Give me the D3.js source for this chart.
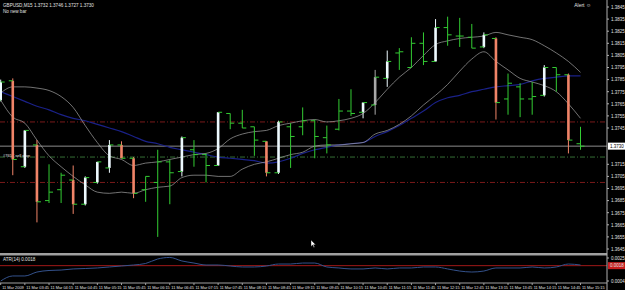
<!DOCTYPE html>
<html>
<head>
    <meta charset="UTF-8">
    <title>GBPUSD,M15</title>
    <script src="https://d3js.org/d3.v7.min.js"></script>
    <style>
        body {
            background-color: #000;
            margin: 0;
            padding: 0;
        }
        svg text {
            font-family: 'Liberation Sans', Arial, sans-serif;
            font-size: 5px;
            fill: #e0e0e0;
        }
    </style>
</head>
<body>
    <svg width="625" height="290"></svg>

    <script>
        // OHLC of the 49 M15 bars, left to right
        const opens  = [1.3768,1.3784,1.3713,1.3731,1.3685,1.3694,1.3702,1.3682,1.3700,1.3712,1.3731,1.3720,1.3694,1.3700,1.3717,1.3709,1.3727,1.3723,1.3714,1.3757,1.3749,1.3746,1.3734,1.3708,1.3746,1.3746,1.3751,1.3737,1.3744,1.3759,1.3758,1.3764,1.3786,1.3807,1.3795,1.3815,1.3800,1.3828,1.3821,1.3820,1.3812,1.3819,1.3769,1.3779,1.3769,1.3772,1.3795,1.3789,1.3732];
        const highs  = [1.3785,1.3786,1.3743,1.3735,1.3715,1.3708,1.3714,1.3705,1.3717,1.3735,1.3734,1.3721,1.3705,1.3727,1.3719,1.3738,1.3735,1.3724,1.3758,1.3757,1.3760,1.3746,1.3734,1.3751,1.3749,1.3762,1.3752,1.3747,1.3769,1.3777,1.3766,1.3793,1.3809,1.3811,1.3820,1.3824,1.3835,1.3837,1.3836,1.3831,1.3824,1.3820,1.3790,1.3782,1.3783,1.3797,1.3795,1.3790,1.3746];
        const lows   = [1.3767,1.3706,1.3712,1.3667,1.3683,1.3683,1.3674,1.3681,1.3699,1.3708,1.3720,1.3687,1.3684,1.3655,1.3682,1.3705,1.3713,1.3700,1.3714,1.3744,1.3745,1.3722,1.3705,1.3707,1.3712,1.3739,1.3720,1.3724,1.3743,1.3755,1.3753,1.3756,1.3779,1.3793,1.3795,1.3797,1.3800,1.3813,1.3812,1.3811,1.3811,1.3752,1.3756,1.3754,1.3756,1.3771,1.3775,1.3724,1.3727];
        const closes = [1.3783,1.3719,1.3743,1.3684,1.3692,1.3706,1.3682,1.3704,1.3717,1.3731,1.3720,1.3691,1.3705,1.3717,1.3708,1.3737,1.3723,1.3714,1.3758,1.3749,1.3745,1.3735,1.3708,1.3750,1.3738,1.3751,1.3738,1.3731,1.3759,1.3757,1.3766,1.3787,1.3800,1.3808,1.3815,1.3800,1.3828,1.3822,1.3821,1.3811,1.3822,1.3766,1.3782,1.3769,1.3771,1.3795,1.3789,1.3735,1.3730];
        // highlight of each bar: g plain, w white body, r salmon body, s grey body
        const barKinds = ['w','r','w','r','g','g','r','w','w','w','r','r','g','g','g','w','g','g','w','g','g','g','r','w','g','g','g','g','g','g','w','s','w','g','g','g','w','g','g','g','w','r','g','g','g','w','g','r','g'];

        const maBlue    = [1.3775,1.3771,1.3767,1.3763,1.3760,1.3756,1.3753,1.3751,1.3748,1.3745,1.3742,1.3738,1.3734,1.3732,1.3729,1.3727,1.3725,1.3723,1.3721,1.3720,1.3719,1.3718,1.3716,1.3717,1.3720,1.3724,1.3727,1.3729,1.3731,1.3732,1.3733,1.3738,1.3742,1.3747,1.3753,1.3759,1.3766,1.3770,1.3772,1.3775,1.3777,1.3779,1.3780,1.3781,1.3784,1.3786,1.3787,1.3788,1.3788];
        const bandUpper = [1.3774,1.3779,1.3779,1.3778,1.3776,1.3771,1.3762,1.3747,1.3733,1.3722,1.3719,1.3714,1.3716,1.3717,1.3719,1.3721,1.3723,1.3724,1.3728,1.3736,1.3740,1.3742,1.3743,1.3747,1.3749,1.3751,1.3752,1.3750,1.3751,1.3753,1.3757,1.3766,1.3777,1.3787,1.3795,1.3805,1.3814,1.3817,1.3819,1.3820,1.3821,1.3824,1.3822,1.3820,1.3818,1.3813,1.3807,1.3800,1.3791];
        const bandLower = [1.3768,1.3754,1.3749,1.3735,1.3722,1.3713,1.3705,1.3698,1.3692,1.3691,1.3692,1.3691,1.3694,1.3696,1.3697,1.3704,1.3706,1.3706,1.3705,1.3705,1.3711,1.3715,1.3717,1.3720,1.3723,1.3725,1.3730,1.3731,1.3731,1.3732,1.3733,1.3740,1.3743,1.3748,1.3755,1.3764,1.3772,1.3781,1.3792,1.3802,1.3808,1.3800,1.3793,1.3786,1.3783,1.3780,1.3775,1.3765,1.3753];

        const atrValues = [0.00040,0.00086,0.00086,0.00122,0.00136,0.00140,0.00150,0.00154,0.00159,0.00168,0.00177,0.00186,0.00200,0.00241,0.00255,0.00223,0.00204,0.00186,0.00186,0.00177,0.00168,0.00168,0.00177,0.00195,0.00195,0.00204,0.00204,0.00168,0.00159,0.00150,0.00150,0.00159,0.00150,0.00159,0.00159,0.00168,0.00168,0.00150,0.00131,0.00122,0.00131,0.00159,0.00159,0.00159,0.00168,0.00159,0.00168,0.00195,0.00186];
        const atrLevel = 0.0018;

        const redLevels = [1.3750, 1.3700];
        const greenLevel = 1.3721;
        const bidPrice = 1.3730;

        const priceTicks = [1.3845,1.3835,1.3825,1.3815,1.3805,1.3795,1.3785,1.3775,1.3765,1.3755,1.3745,1.3715,1.3705,1.3695,1.3685,1.3675,1.3665,1.3655,1.3645];
        const atrTicks = [0.0025, 0.0004];

        const timeLabels = ['11 Mar 2009','11 Mar 03:45','11 Mar 04:15','11 Mar 04:45','11 Mar 05:15','11 Mar 05:45','11 Mar 06:15','11 Mar 06:45','11 Mar 07:15','11 Mar 07:45','11 Mar 08:15','11 Mar 08:45','11 Mar 09:15','11 Mar 09:45','11 Mar 10:15','11 Mar 10:45','11 Mar 11:15','11 Mar 11:45','11 Mar 12:15','11 Mar 12:45','11 Mar 13:15','11 Mar 13:45','11 Mar 14:15','11 Mar 14:45','11 Mar 15:15'];

        const svg = d3.select("svg");
        const axisX = 607;

        const x = d3.scaleLinear().domain([0, 48]).range([0.7, 580.5]);
        const y = d3.scaleLinear().domain([1.3645, 1.3845]).range([249, 7]);
        const yAtr = d3.scaleLinear().domain([0.0004, 0.0025]).range([281, 258]);

        svg.append("rect").attr("width", 625).attr("height", 290).attr("fill", "#000");

        svg.append("clipPath").attr("id", "mainClip")
            .append("rect").attr("x", 0).attr("y", 0).attr("width", axisX).attr("height", 253);
        svg.append("clipPath").attr("id", "subClip")
            .append("rect").attr("x", 0).attr("y", 256).attr("width", axisX).attr("height", 27);

        const main = svg.append("g").attr("clip-path", "url(#mainClip)");

        // horizontal levels
        main.selectAll(".red-level").data(redLevels).enter().append("line")
            .attr("x1", 0).attr("x2", axisX)
            .attr("y1", d => y(d)).attr("y2", d => y(d))
            .attr("stroke", "#7a1a1a").attr("stroke-width", 1)
            .attr("stroke-dasharray", "5,2,1,2");
        main.append("line")
            .attr("x1", 0).attr("x2", axisX)
            .attr("y1", y(greenLevel)).attr("y2", y(greenLevel))
            .attr("stroke", "#356e35").attr("stroke-width", 1)
            .attr("stroke-dasharray", "5,2,1,2");
        main.append("line")
            .attr("x1", 0).attr("x2", axisX)
            .attr("y1", y(bidPrice)).attr("y2", y(bidPrice))
            .attr("stroke", "#8c8c8c").attr("stroke-width", 1);
        main.append("text").attr("x", 3).attr("y", y(greenLevel) - 0.5)
            .style("font-size", "4px").text("#7657 sell stop");

        // indicator lines
        const line = d3.line().x((d, i) => x(i)).y(d => y(d)).curve(d3.curveMonotoneX);
        main.append("path").attr("d", line(maBlue))
            .attr("fill", "none").attr("stroke", "#1a2188").attr("stroke-width", 1.2);
        [bandUpper, bandLower].forEach(band => {
            main.append("path").attr("d", line(band))
                .attr("fill", "none").attr("stroke", "#a4a4a4").attr("stroke-width", 0.7);
        });

        // bars
        const kindColor = { g: "#33cc33", w: "#eefaff", r: "#f08468", s: "#a8a8a8" };
        const bars = main.selectAll(".bar").data(d3.range(opens.length)).enter().append("g");
        bars.append("line")
            .attr("x1", i => x(i)).attr("x2", i => x(i))
            .attr("y1", i => y(highs[i])).attr("y2", i => y(lows[i]))
            .attr("stroke", i => kindColor[barKinds[i]]).attr("stroke-width", 1);
        bars.filter(i => barKinds[i] !== 'g').append("rect")
            .attr("x", i => x(i) - 1.3).attr("width", 2.6)
            .attr("y", i => y(Math.max(opens[i], closes[i])))
            .attr("height", i => Math.max(1, Math.abs(y(opens[i]) - y(closes[i]))))
            .attr("fill", i => kindColor[barKinds[i]]);
        bars.append("line")
            .attr("x1", i => x(i) - 4).attr("x2", i => x(i))
            .attr("y1", i => y(opens[i])).attr("y2", i => y(opens[i]))
            .attr("stroke", "#33cc33").attr("stroke-width", 1);
        bars.append("line")
            .attr("x1", i => x(i)).attr("x2", i => x(i) + 4)
            .attr("y1", i => y(closes[i])).attr("y2", i => y(closes[i]))
            .attr("stroke", "#33cc33").attr("stroke-width", 1);

        // texts on the main panel
        svg.append("text").attr("x", 3).attr("y", 7).style("font-size", "4.6px")
            .text("GBPUSD,M15  1.3732 1.3746 1.3727 1.3730");
        svg.append("text").attr("x", 3).attr("y", 13).style("font-size", "4.6px").text("No new bar");
        svg.append("text").attr("x", 591).attr("y", 7).attr("text-anchor", "end").text("Alert \u263A");

        // separator between panels
        svg.append("rect").attr("x", 0).attr("y", 253).attr("width", axisX).attr("height", 2.5).attr("fill", "#a0a0a0");

        // ATR sub window
        const sub = svg.append("g").attr("clip-path", "url(#subClip)");
        sub.append("line").attr("x1", 0).attr("x2", axisX)
            .attr("y1", yAtr(atrLevel)).attr("y2", yAtr(atrLevel))
            .attr("stroke", "#a01818").attr("stroke-width", 1);
        const atrLine = d3.line().x((d, i) => x(i)).y(d => yAtr(d)).curve(d3.curveMonotoneX);
        sub.append("path").attr("d", atrLine(atrValues))
            .attr("fill", "none").attr("stroke", "#34528c").attr("stroke-width", 1);
        svg.append("text").attr("x", 3).attr("y", 261).style("font-size", "4.6px").text("ATR(14) 0.0018");

        // bottom time axis
        svg.append("line").attr("x1", 0).attr("x2", axisX).attr("y1", 283).attr("y2", 283)
            .attr("stroke", "#a0a0a0").attr("stroke-width", 1);
        const tg = svg.selectAll(".tlab").data(timeLabels).enter().append("g");
        tg.append("line")
            .attr("x1", (d, k) => x(2 * k)).attr("x2", (d, k) => x(2 * k))
            .attr("y1", 283).attr("y2", 285).attr("stroke", "#a0a0a0");
        tg.append("text")
            .attr("x", (d, k) => x(2 * k) + 1.5).attr("y", 288.5)
            .style("font-size", "3.9px").text(d => d);

        // right price axis
        svg.append("line").attr("x1", axisX).attr("x2", axisX).attr("y1", 0).attr("y2", 290)
            .attr("stroke", "#b0b0b0").attr("stroke-width", 1);
        const pg = svg.selectAll(".plab").data(priceTicks).enter().append("g");
        pg.append("line").attr("x1", axisX).attr("x2", axisX + 2)
            .attr("y1", d => y(d)).attr("y2", d => y(d)).attr("stroke", "#b0b0b0");
        pg.append("text").attr("x", axisX + 4).attr("y", d => y(d) + 1.8)
            .style("font-size", "4.5px").text(d => d.toFixed(4));

        svg.append("rect").attr("x", axisX + 1).attr("y", y(bidPrice) - 3.5)
            .attr("width", 17).attr("height", 7).attr("fill", "#fff");
        svg.append("text").attr("x", axisX + 3).attr("y", y(bidPrice) + 1.8)
            .style("font-size", "4.5px").style("fill", "#000").text(bidPrice.toFixed(4));

        const ag = svg.selectAll(".alab").data(atrTicks).enter().append("g");
        ag.append("line").attr("x1", axisX).attr("x2", axisX + 2)
            .attr("y1", d => yAtr(d)).attr("y2", d => yAtr(d)).attr("stroke", "#b0b0b0");
        ag.append("text").attr("x", axisX + 4).attr("y", d => yAtr(d) + 1.8)
            .style("font-size", "4.5px").text(d => d.toFixed(4));
        svg.append("rect").attr("x", axisX + 1).attr("y", yAtr(atrLevel) - 3.5)
            .attr("width", 17).attr("height", 7).attr("fill", "#c81e1e");
        svg.append("text").attr("x", axisX + 3).attr("y", yAtr(atrLevel) + 1.8)
            .style("font-size", "4.5px").text(atrLevel.toFixed(4));

        // mouse pointer left on the chart
        svg.append("path")
            .attr("d", "M311,240 l0,6.5 l1.6,-1.5 l1.2,2.5 l0.9,-0.4 l-1.2,-2.4 l2.2,0 z")
            .attr("fill", "#fff").attr("stroke", "#000").attr("stroke-width", 0.4);
    </script>
</body>
</html>
